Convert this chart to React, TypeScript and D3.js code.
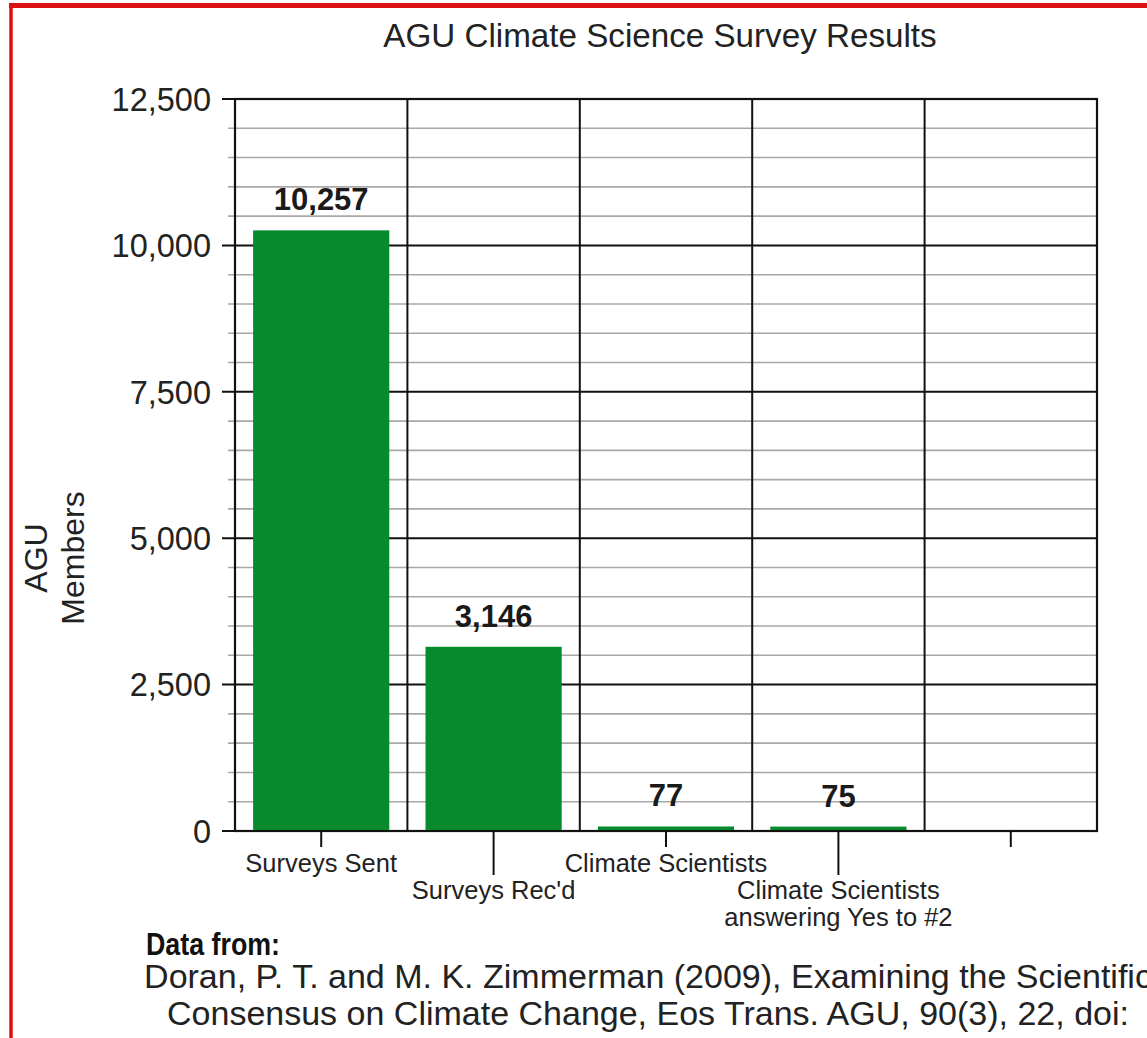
import React from 'react';
import * as d3 from 'd3';

const TITLE = 'AGU Climate Science Survey Results';
const categories = ['Surveys Sent', "Surveys Rec'd", 'Climate Scientists', 'Climate Scientists|answering Yes to #2', ''];
const values: (number | null)[] = [10257, 3146, 77, 75, null];
const yMajorTicks = [0, 2500, 5000, 7500, 10000, 12500];
const yMinorStep = 500;
const yAxisTitle = ['AGU', 'Members'];
const footerHead = 'Data from:';
const footerLines = [
  'Doran, P. T. and M. K. Zimmerman (2009), Examining the Scientific',
  'Consensus on Climate Change, Eos Trans. AGU, 90(3), 22, doi:',
];

const W = 1147;
const H = 1038;
const FONT = "'Liberation Sans', Arial, Helvetica, sans-serif";
const plot = { left: 235, right: 1097, top: 99, bottom: 831 };
const BAR_COLOR = '#078a2e';

const App: React.FC = () => {
  const x = d3
    .scaleBand<string>()
    .domain(categories.map((_, i) => String(i)))
    .range([plot.left, plot.right])
    .padding(0);
  const y = d3.scaleLinear().domain([0, 12500]).range([plot.bottom, plot.top]);
  const bw = x.bandwidth();
  const inset = bw * 0.105;
  const fmt = d3.format(',');

  const minorTicks = d3.range(0, 12500, yMinorStep).filter((v) => !yMajorTicks.includes(v));

  return (
    <svg
      width={W}
      height={H}
      style={{ position: 'absolute', left: 0, top: 0, background: '#fff' }}
      fontFamily={FONT}
    >
      {/* red frame (top + left only, rest cropped) */}
      <line x1={9} x2={W} y1={5.5} y2={5.5} stroke='#dd1111' strokeWidth={5} />
      <line x1={11} x2={11} y1={3} y2={H} stroke='#dd1111' strokeWidth={3.5} />

      <text x={660} y={47} textAnchor='middle' fontSize={33.2} fill='#222'>
        {TITLE}
      </text>

      {/* minor grid */}
      {minorTicks.map((v) => (
        <line key={'mi' + v} x1={plot.left - 7} x2={plot.right} y1={y(v)} y2={y(v)} stroke='#a8a8a8' strokeWidth={1.6} />
      ))}
      {/* major grid + ticks */}
      {yMajorTicks.map((v) => (
        <g key={'ma' + v}>
          <line x1={plot.left - 13} x2={plot.right} y1={y(v)} y2={y(v)} stroke='#111' strokeWidth={2} />
          <text x={211} y={y(v)} dy='0.36em' textAnchor='end' fontSize={32.5} fill='#222'>
            {fmt(v)}
          </text>
        </g>
      ))}
      {/* vertical category lines */}
      {categories.map((_, i) => (
        <line
          key={'v' + i}
          x1={x(String(i))!}
          x2={x(String(i))!}
          y1={plot.top}
          y2={plot.bottom}
          stroke='#111'
          strokeWidth={2}
        />
      ))}
      <rect
        x={plot.left}
        y={plot.top}
        width={plot.right - plot.left}
        height={plot.bottom - plot.top}
        fill='none'
        stroke='#111'
        strokeWidth={2.2}
      />

      {/* bars + value labels */}
      {values.map((v, i) =>
        v == null ? null : (
          <g key={'b' + i}>
            <rect
              x={x(String(i))! + inset}
              y={y(v)}
              width={bw - inset * 2}
              height={plot.bottom - y(v)}
              fill={BAR_COLOR}
            />
            <text
              x={x(String(i))! + bw / 2}
              y={y(v) - 20}
              textAnchor='middle'
              fontSize={31}
              fontWeight='bold'
              fill='#1a1a1a'
            >
              {fmt(v)}
            </text>
          </g>
        ),
      )}
      {/* redraw baseline over bars */}
      <line x1={plot.left - 13} x2={plot.right} y1={plot.bottom} y2={plot.bottom} stroke='#111' strokeWidth={2.2} />

      {/* x ticks and staggered labels */}
      {categories.map((c, i) => {
        const cx = x(String(i))! + bw / 2;
        const low = i % 2 === 1;
        const lines = c ? c.split('|') : [];
        return (
          <g key={'x' + i}>
            <line x1={cx} x2={cx} y1={plot.bottom} y2={plot.bottom + (low ? 44 : 16)} stroke='#111' strokeWidth={2} />
            {lines.map((l, j) => (
              <text
                key={j}
                x={cx}
                y={(low ? 899 : 872) + j * 27}
                textAnchor='middle'
                fontSize={25.5}
                fill='#222'
              >
                {l}
              </text>
            ))}
          </g>
        );
      })}

      {/* y axis title */}
      <text transform={`translate(47, ${558}) rotate(-90)`} textAnchor='middle' fontSize={32} fill='#222'>
        {yAxisTitle.map((t, i) => (
          <tspan key={i} x={0} dy={i === 0 ? 0 : 37}>
            {t}
          </tspan>
        ))}
      </text>

      {/* source note */}
      <text
        x={146}
        y={955}
        fontSize={31}
        fontWeight='bold'
        fill='#111'
        textLength={134}
        lengthAdjust='spacingAndGlyphs'
      >
        {footerHead}
      </text>
      {footerLines.map((l, i) => (
        <text key={'f' + i} x={648} y={988 + i * 37} textAnchor='middle' fontSize={34} fill='#222'>
          {l}
        </text>
      ))}
    </svg>
  );
};

export default App;
